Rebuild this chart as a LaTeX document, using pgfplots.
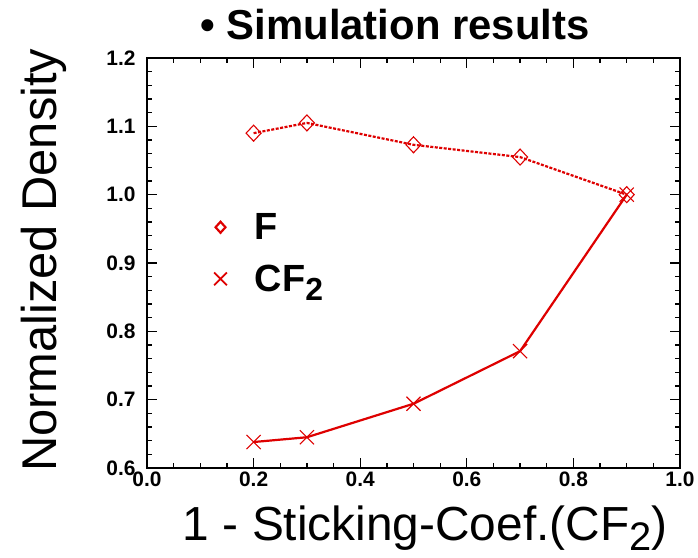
\documentclass[border=0pt]{standalone}
\usepackage{pgfplots}
\pgfplotsset{compat=1.18}
\usepackage{fontspec}
\setmainfont{Liberation Sans}
\definecolor{cred}{RGB}{222,0,0}
\begin{document}
\begin{tikzpicture}
\path[use as bounding box] (-147bp,-90bp) rectangle (551bp,468bp);
\begin{axis}[
  at={(0,0)}, anchor=south west,
  scale only axis, width=533bp, height=410bp,
  xmin=0, xmax=1, ymin=0.6, ymax=1.2,
  xtick={0,0.2,0.4,0.6,0.8,1.0},
  ytick={0.6,0.7,0.8,0.9,1.0,1.1,1.2},
  minor x tick num=3, minor y tick num=4,
  tick align=inside, major tick length=10bp, minor tick length=5bp,
  axis line style={line width=2.8bp},
  every tick/.style={black, line width=1.3bp},
  /pgf/number format/assume math mode=true,
  xticklabel style={/pgf/number format/.cd, fixed, fixed zerofill, precision=1},
  yticklabel style={xshift=-8bp, /pgf/number format/.cd, fixed, fixed zerofill, precision=1},
  tick label style={font=\bfseries\fontsize{21}{23}\selectfont},
  xlabel={1 - Sticking-Coef.(CF\raisebox{-0.22em}{\fontsize{40}{42}\selectfont 2})},
  xlabel style={at={(axis description cs:0.522,-0.176)}, anchor=base, font=\fontsize{48}{52}\selectfont},
  ylabel={Normalized Density},
  ylabel style={at={(axis description cs:-0.193,0.507)}, anchor=center, font=\fontsize{49}{53}\selectfont},
  legend style={draw=none, fill=none, at={(axis description cs:0.12,0.631)}, anchor=north west,
    font=\bfseries\fontsize{38}{42}\selectfont, row sep=20bp},
  legend cell align=left,
]
\addplot[cred, line width=2.2bp, dash pattern=on 3bp off 1.5bp,
  mark=diamond, mark size=8bp, mark options={solid, line width=1.1bp, xscale=1.25}, forget plot]
  coordinates {(0.2,1.090) (0.3,1.105) (0.5,1.073) (0.7,1.055) (0.9,1.000)};
\addplot[cred, line width=2.2bp,
  mark=x, mark size=10bp, mark options={solid, line width=1.1bp}, forget plot]
  coordinates {(0.2,0.638) (0.3,0.645) (0.5,0.694) (0.7,0.771) (0.9,1.000)};
\addlegendimage{only marks, cred, mark=diamond, mark size=5.5bp, mark options={line width=2.2bp, xscale=1.2}}
\addlegendentry{\hspace{26bp}F}
\addlegendimage{only marks, cred, mark=x, mark size=9bp, mark options={line width=1.8bp}}
\addlegendentry{\hspace{26bp}CF\raisebox{-0.25em}{\fontsize{32}{34}\selectfont 2}}
\end{axis}
\node[anchor=base, font=\bfseries\fontsize{42}{46}\selectfont] at (248bp,428bp) {\textbullet\ Simulation results};
\end{tikzpicture}
\end{document}
